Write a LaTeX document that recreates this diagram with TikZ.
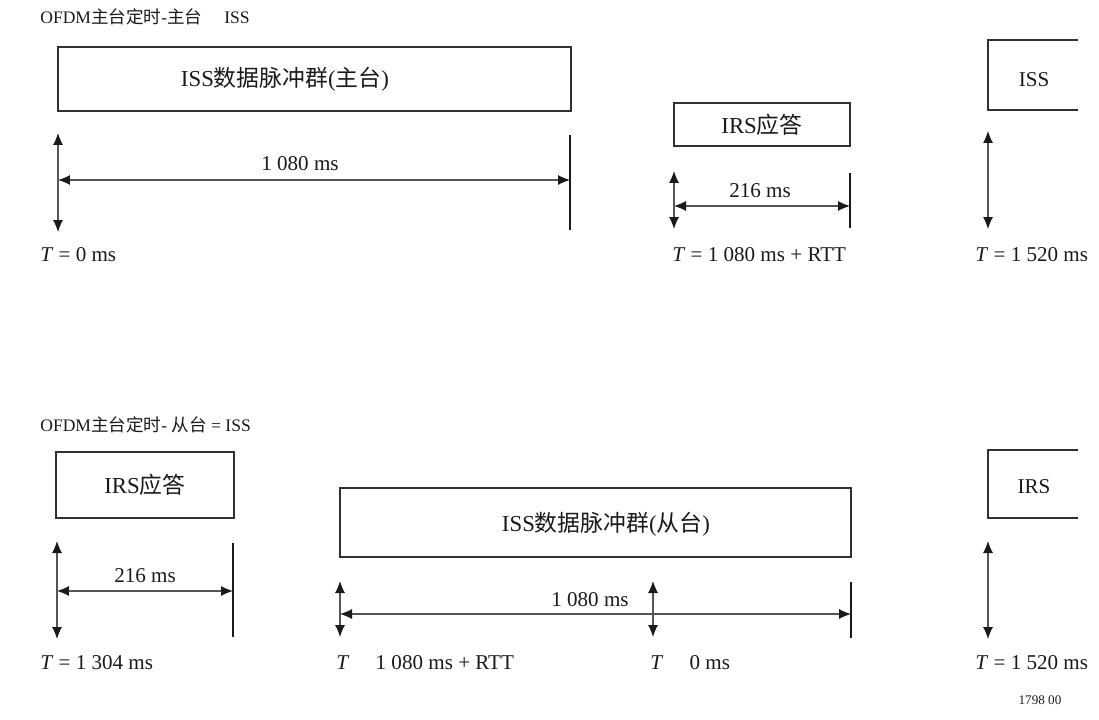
\documentclass[tikz,border=0pt]{standalone}
\usepackage{fontspec}
\setmainfont{Liberation Serif}
\newfontfamily\cjk{Noto Sans CJK SC}
\usetikzlibrary{arrows.meta}
\definecolor{tmink}{HTML}{1A1A1A}
\definecolor{tmgrey}{HTML}{555555}

\begin{document}
\begin{tikzpicture}[
        x=0.02cm, y=-0.02cm, font=\fontsize{12}{14}\selectfont, text=tmink,
        burst/.style={draw=tmink!90, line width=1.1pt, inner sep=0pt},
        btxt/.style={font=\fontsize{13}{15}\selectfont},
        dim/.style={{Latex[length=2.4mm,width=2mm,color=tmink]}-{Latex[length=2.4mm,width=2mm,color=tmink]},
                    tmgrey, line width=0.6pt},
        endl/.style={tmink, line width=0.8pt},
        tlab/.style={anchor=base west, inner sep=0pt},
        ttl/.style={anchor=base west, inner sep=0pt, font=\fontsize{10}{12}\selectfont}
    ]
        \useasboundingbox (0,0) rectangle (1099,720);

        % master timing
        \node[ttl] (tt1) at (40,23) {OFDM{\cjk 主台定时}-{\cjk 主台}\quad\ ISS};
        \node[burst, minimum width=10.26cm, minimum height=1.28cm] (issm)
            at (314.5,79) {};
        \node[btxt] (issmt) at (285,79) {ISS{\cjk 数据脉冲群}({\cjk 主台})};
        \node[burst, btxt, minimum width=3.52cm, minimum height=0.86cm] (irsm)
            at (762,124.5) {IRS{\cjk 应答}};
        \draw[burst] (1078,40) -| (988,110) -- (1078,110);
        \node (issn) at (1034,80) {ISS};

        \coordinate (a0) at (58,133);  \coordinate (a1) at (58,232);
        \coordinate (b0) at (570,135); \coordinate (b1) at (570,230);
        \coordinate (ha) at (58,180);  \coordinate (hb) at (570,180);
        \draw[dim] (a0) -- (a1);
        \draw[endl] (b0) -- (b1);
        \draw[dim] (ha) -- (hb);
        \node (l1) at (300,164) {1 080 ms};

        \coordinate (c0) at (674,171); \coordinate (c1) at (674,229);
        \coordinate (d0) at (850,173); \coordinate (d1) at (850,228);
        \coordinate (hc) at (674,206); \coordinate (hd) at (850,206);
        \draw[dim] (c0) -- (c1);
        \draw[endl] (d0) -- (d1);
        \draw[dim] (hc) -- (hd);
        \node (l2) at (760,191) {216 ms};

        \coordinate (e0) at (988,131); \coordinate (e1) at (988,229);
        \draw[dim] (e0) -- (e1);

        \node[tlab] (t1) at (40,261) {\textit{T} = 0 ms};
        \node[tlab] (t2) at (672,261) {\textit{T} = 1 080 ms + RTT};
        \node[tlab] (t3) at (975,261) {\textit{T} = 1 520 ms};

        % slave timing
        \node[ttl] (tt2) at (40,431) {OFDM{\cjk 主台定时}- {\cjk 从台} = ISS};
        \node[burst, btxt, minimum width=3.56cm, minimum height=1.32cm] (irss)
            at (145,485) {IRS{\cjk 应答}};
        \node[burst, minimum width=10.22cm, minimum height=1.38cm] (isss)
            at (595.5,522.5) {};
        \node[btxt] (issst) at (606,524) {ISS{\cjk 数据脉冲群}({\cjk 从台})};
        \draw[burst] (1078,450) -| (988,518) -- (1078,518);
        \node (irsn) at (1034,487) {IRS};

        \coordinate (f0) at (57,541);  \coordinate (f1) at (57,639);
        \coordinate (g0) at (233,543); \coordinate (g1) at (233,637);
        \coordinate (hf) at (57,591);  \coordinate (hg) at (233,591);
        \draw[dim] (f0) -- (f1);
        \draw[endl] (g0) -- (g1);
        \draw[dim] (hf) -- (hg);
        \node (l3) at (145,576) {216 ms};

        \coordinate (i0) at (340,581); \coordinate (i1) at (340,637);
        \coordinate (j0) at (653,581); \coordinate (j1) at (653,637);
        \coordinate (k0) at (851,582); \coordinate (k1) at (851,638);
        \coordinate (hi) at (340,614); \coordinate (hk) at (851,614);
        \draw[dim] (i0) -- (i1);
        \draw[dim] (j0) -- (j1);
        \draw[endl] (k0) -- (k1);
        \draw[dim] (hi) -- (hk);
        \node (l4) at (590,600) {1 080 ms};

        \coordinate (m0) at (988,541); \coordinate (m1) at (988,639);
        \draw[dim] (m0) -- (m1);

        \node[tlab] (t4) at (40,669) {\textit{T} = 1 304 ms};
        \node[tlab] (t5) at (336,669) {\textit{T}\quad\ 1 080 ms + RTT};
        \node[tlab] (t6) at (650,669) {\textit{T}\quad\ 0 ms};
        \node[tlab] (t7) at (975,669) {\textit{T} = 1 520 ms};

        \node[font=\fontsize{7.5}{8}\selectfont] (fig) at (1040,700) {1798 00};
    \end{tikzpicture}
\end{document}
